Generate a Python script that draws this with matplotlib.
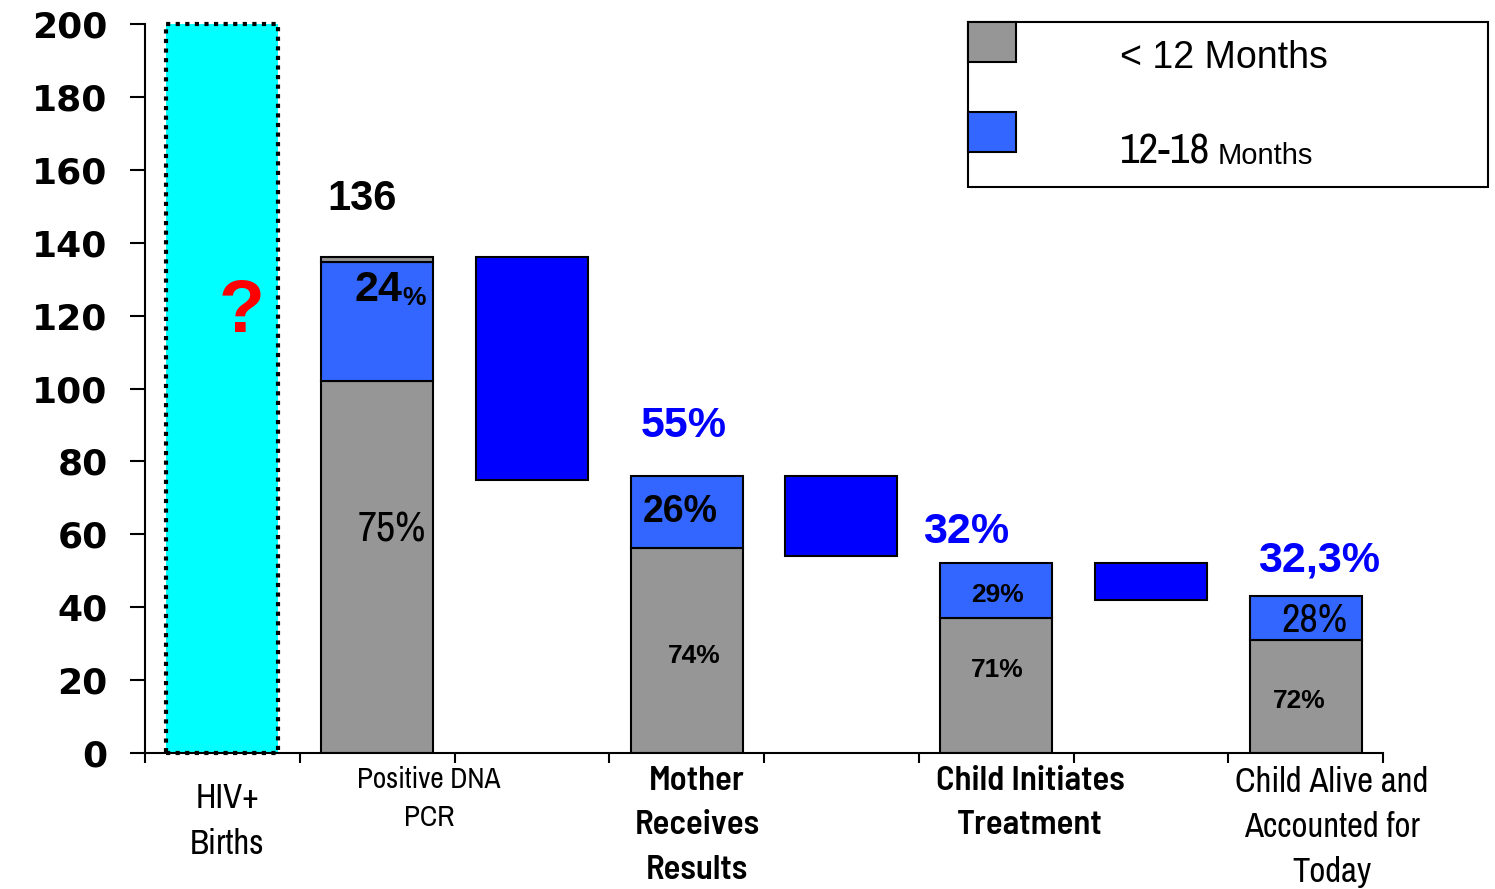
import numpy as np
import matplotlib
matplotlib.use("Agg")
import matplotlib.pyplot as plt
from matplotlib.patches import Rectangle

# --- données de la cascade ---
stage_labels = ["HIV+\nBirths", "Positive DNA\nPCR", "Mother\nReceives\nResults",
                "Child Initiates\nTreatment", "Child Alive and\nAccounted for\nToday"]
stage_slots = [1, 3, 5, 7]          # colonnes des barres empilées
births_max = 200                     # nombre de naissances inconnu -> barre pleine
stage_totals = [136, 76, 52, 43]
pct_under_12 = [75, 74, 71, 72]
pct_12_18 = [24, 26, 29, 28]
retained_pct = ["55%", "32%", "32,3%"]
loss_slots = [2, 4, 6]
loss_top = [136, 76, 52]
loss_bottom = [75, 54, 42]

GREY = "#969696"
LIGHT_BLUE = "#3366FF"
BLUE = "#0000FF"
NARROW = ["Archivo Narrow", "PT Sans Narrow", "Liberation Sans"]
NARROW_BOLD = ["Barlow Semi Condensed", "PT Sans Narrow", "Liberation Sans"]
ARIAL = ["Liberation Sans", "DejaVu Sans"]

totals = np.array(stage_totals, dtype=float)
grey_part = totals * np.array(pct_under_12) / 100
blue_part = totals * np.array(pct_12_18) / 100
rest_part = totals - grey_part - blue_part

fig = plt.figure(figsize=(14.95, 8.89), dpi=100)
ax = fig.add_axes([145 / 1495, 136 / 889, 1238 / 1495, 729 / 889])
ax.set_xlim(-0.5, 7.5)
ax.set_ylim(0, 200)

W = 0.725
ax.bar(0, births_max, width=W, color="#00FFFF", edgecolor="black",
       linestyle=(0, (1, 1.3)), linewidth=3, clip_on=False, zorder=2)
ax.bar(stage_slots, grey_part, width=W, color=GREY, edgecolor="black", linewidth=1.5, zorder=2)
ax.bar(stage_slots, blue_part, bottom=grey_part, width=W, color=LIGHT_BLUE,
       edgecolor="black", linewidth=1.5, zorder=2)
for x, b, h in zip(stage_slots, grey_part + blue_part, rest_part):
    if h > 0.01:
        ax.bar(x, h, bottom=b, width=W, color=GREY, edgecolor="black", linewidth=1.5, zorder=2)
ax.bar(loss_slots, np.array(loss_top) - np.array(loss_bottom), bottom=loss_bottom,
       width=W, color=BLUE, edgecolor="black", linewidth=1.5, zorder=2)

# axes
for s in ["top", "right"]:
    ax.spines[s].set_visible(False)
for s in ["left", "bottom"]:
    ax.spines[s].set_linewidth(1.5)
ax.set_yticks(range(0, 201, 20))
ax.tick_params(axis="y", direction="out", length=11, width=1.5, pad=16, labelsize=26)
for lab in ax.get_yticklabels():
    lab.set_fontweight("bold")
    lab.set_family("DejaVu Sans")
ax.set_xticks(np.arange(-0.5, 8, 1))
ax.set_xticklabels([])
ax.tick_params(axis="x", direction="out", length=7, width=1.5)

# libellés des étapes
cat_x = [0.03, 1.335, 3.067, 5.219, 7.17]
cat_y = [-8.0, -3.6, -3.6, -3.6, -3.6]
cat_size = [25, 21, 25, 25, 25]
cat_font = [NARROW, NARROW, NARROW_BOLD, NARROW_BOLD, NARROW]
cat_weight = [400, 400, 600, 600, 400]
cat_spacing = [1.52, 1.48, 1.55, 1.55, 1.5]
for x, y, txt, fs, fam, fw, ls in zip(cat_x, cat_y, stage_labels, cat_size,
                                       cat_font, cat_weight, cat_spacing):
    ax.text(x, y, txt, ha="center", va="top", fontsize=fs, fontweight=fw,
            family=fam, linespacing=ls, clip_on=False)

# annotations (ancrées sur la ligne de base)
def note(x, y, s, size, bold=True, fam=ARIAL, color="black"):
    return ax.text(x, y, s, fontsize=size, fontweight="bold" if bold else "normal",
                   family=fam, color=color, ha="center", va="baseline")

note(0.124, 115.5, "?", 54, color="red")
note(0.902, 149.0, str(stage_totals[0]), 30)

t24 = ax.text(1.161, 124.0, f"{pct_12_18[0]}", fontsize=31, fontweight="bold",
              family=ARIAL, ha="right", va="baseline")
ax.annotate("%", xy=(1, 0), xycoords=t24, fontsize=19, fontweight="bold",
            family=ARIAL, ha="left", va="bottom")
note(1.096, 57.9, f"{pct_under_12[0]}%", 30, bold=False, fam=NARROW)

note(2.957, 63.4, f"{pct_12_18[1]}%", 27)
note(3.051, 24.7, f"{pct_under_12[1]}%", 19)

note(5.006, 41.4, f"{pct_12_18[2]}%", 19)
note(5.006, 20.9, f"{pct_under_12[2]}%", 19)

note(7.054, 33.2, f"{pct_12_18[3]}%", 29, bold=False, fam=NARROW)
note(6.96, 12.3, f"{pct_under_12[3]}%", 19)

for x, y, txt in zip([2.983, 4.805, 7.087], [86.7, 57.6, 49.7], retained_pct):
    note(x, y, txt, 31, color=BLUE)

# légende
px = lambda v: v / 1495
py = lambda v: 1 - v / 889
fig.add_artist(Rectangle((px(968), py(187)), px(1488) - px(968), py(22) - py(187),
                         transform=fig.transFigure, facecolor="white",
                         edgecolor="black", linewidth=1.5))
fig.add_artist(Rectangle((px(968), py(62)), px(1016) - px(968), py(22) - py(62),
                         transform=fig.transFigure, facecolor=GREY,
                         edgecolor="black", linewidth=1.5))
fig.add_artist(Rectangle((px(968), py(152)), px(1016) - px(968), py(112) - py(152),
                         transform=fig.transFigure, facecolor=LIGHT_BLUE,
                         edgecolor="black", linewidth=1.5))
fig.text(px(1120), py(68), "< 12 Months", fontsize=27, family=ARIAL, va="baseline")
fig.text(px(1120), py(164), "12-18", fontsize=31, family=NARROW, va="baseline")
fig.text(px(1218), py(164), "Months", fontsize=21, family=ARIAL, va="baseline")

fig.savefig("out.png", dpi=100)
